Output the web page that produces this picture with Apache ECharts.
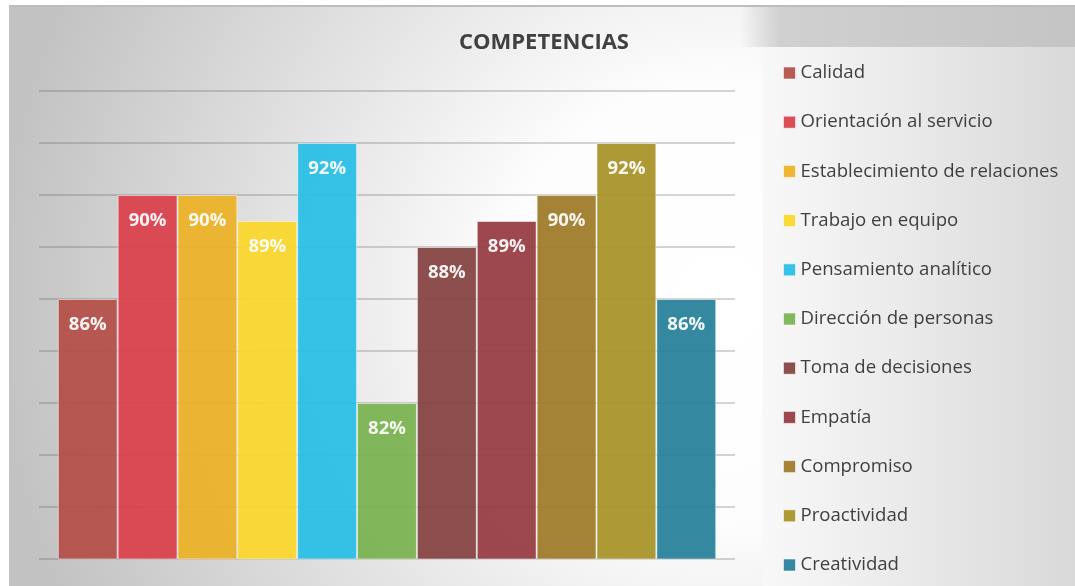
<!DOCTYPE html>
<html>
<head>
<meta charset="utf-8">
<script src="https://cdn.jsdelivr.net/npm/echarts@6/dist/echarts.min.js"></script>
<style>
html,body{margin:0;padding:0;background:#fff;}
#chart{width:1075px;height:586px;}
</style>
</head>
<body>
<div id="chart"></div>
<script>
const titleText = 'COMPETENCIAS';
const competencias = ['Calidad','Orientación al servicio','Establecimiento de relaciones','Trabajo en equipo','Pensamiento analítico','Dirección de personas','Toma de decisiones','Empatía','Compromiso','Proactividad','Creatividad'];
const valores = [86, 90, 90, 89, 92, 82, 88, 89, 90, 92, 86];
const colores = ['#b44f47','#d9404a','#ecb126','#fbd629','#28bde6','#79b24f','#834240','#963a41','#9e7a27','#a89128','#257f98'];
const yMin = 76, yMax = 94, yStep = 2;

const chart = echarts.init(document.getElementById('chart'), null, {renderer:'canvas'});
const series = competencias.map((name, i) => ({
  name: name,
  type: 'bar',
  data: [valores[i]],
  barGap: '0%',
  barCategoryGap: '5.4%',
  itemStyle: {color: colores[i], opacity: 0.93, borderColor: 'rgba(255,255,255,0.55)', borderWidth: 1},
  label: {
    show: true, position: 'insideTop', distance: 16,
    formatter: p => p.value + '%',
    color: '#ffffff', fontFamily: 'Open Sans', fontWeight: 'bold', fontSize: 18.5
  }
}));

chart.setOption({
  animation: false,
  graphic: [
    {type:'rect', z:-10, silent:true, shape:{x:9,y:5,width:1066,height:581},
     style:{fill: new echarts.graphic.RadialGradient(0.667,0.51,1.25,[{offset:0,color:'#ffffff'},{offset:0.3,color:'#fdfdfd'},{offset:1,color:'#c2c2c2'}])}},
    {type:'rect', z:-9, silent:true, shape:{x:9,y:5,width:1066,height:2}, style:{fill:'#bdbdbd'}},
    {type:'rect', z:-9, silent:true, shape:{x:740,y:7,width:335,height:40},
     style:{fill: new echarts.graphic.LinearGradient(0,0,1,0,[{offset:0,color:'rgba(205,205,205,0)'},{offset:0.12,color:'#d0d0d0'},{offset:1,color:'#c4c4c4'}])}},
    {type:'rect', z:-9, silent:true, shape:{x:763,y:47,width:312,height:539},
     style:{fill: new echarts.graphic.LinearGradient(0,0,1,0,[{offset:0,color:'#f8f8f8'},{offset:1,color:'#d9d9d9'}])}}
  ],
  title: {
    text: titleText, left: 539, top: 27, textAlign: 'center',
    textStyle: {fontFamily: 'Open Sans', fontWeight: 'bold', fontSize: 22, color: '#404040'}
  },
  legend: {
    orient: 'vertical', left: 778, top: 58,
    itemWidth: 12, itemHeight: 12, itemGap: 29.2,
    icon: 'rect',
    itemStyle: {borderColor: 'rgba(255,255,255,0.6)', borderWidth: 1},
    textStyle: {fontFamily: 'Open Sans', fontSize: 18.6, color: '#404040', lineHeight: 20}
  },
  grid: {left: 39, right: 340, top: 91, bottom: 27, containLabel: false},
  xAxis: {type: 'category', data: [''], axisLine: {show: false}, axisTick: {show: false}, axisLabel: {show: false}},
  yAxis: {
    type: 'value', min: yMin, max: yMax, interval: yStep,
    axisLabel: {show: false}, axisLine: {show: false}, axisTick: {show: false},
    splitLine: {show: true, lineStyle: {color: 'rgba(80,80,80,0.32)', width: 1.5}}
  },
  series: series
});
</script>
</body>
</html>
